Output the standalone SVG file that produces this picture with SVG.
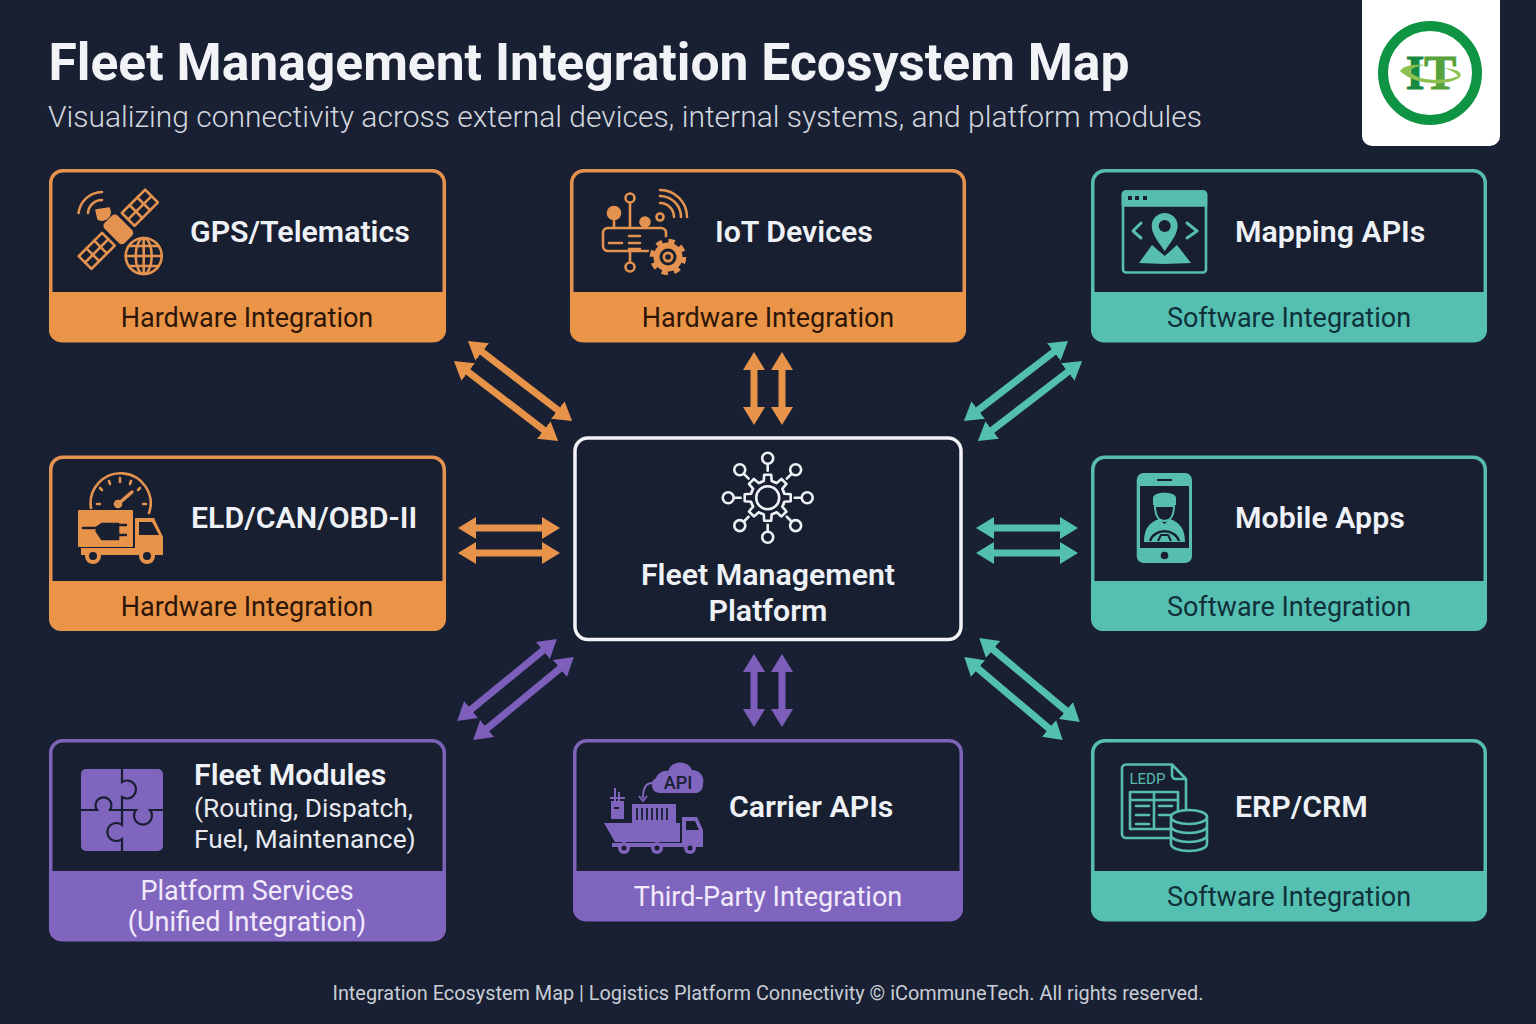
<svg xmlns="http://www.w3.org/2000/svg" width="1536" height="1024" viewBox="0 0 1536 1024">
<style>
text{font-family:Roboto,"Liberation Sans",sans-serif}
.card{fill:#181f31;stroke-width:3.5}
.o{stroke:#e3934f}.t{stroke:#56bdb0}.p{stroke:#7c62b8}
.fo{fill:#ea9447}.ft{fill:#55c0b2}.fp{fill:#8065bf}
.h{font-size:30.3px;font-weight:600;fill:#eef1f6}
.s{font-size:27px;text-anchor:middle}
.so{fill:#2c1508}.st{fill:#10303a}.sp{fill:#f1eafa}
.d{font-size:26.3px;fill:#e6e9ef}
.io{fill:none;stroke:#e3934f;stroke-width:2.6;stroke-linecap:round;stroke-linejoin:round}
.it{fill:none;stroke:#56bdb0;stroke-width:2.6;stroke-linecap:round;stroke-linejoin:round}
.iw{fill:none;stroke:#eef1f6;stroke-width:2.6;stroke-linecap:round;stroke-linejoin:round}
.co line{stroke-width:7}
</style>
<defs>
<marker id="mo" markerUnits="userSpaceOnUse" markerWidth="20" markerHeight="22" refX="4" refY="11" orient="auto-start-reverse"><path d="M0,0 L18,11 L0,22 Z" fill="#e8934a"/></marker>
<marker id="mt" markerUnits="userSpaceOnUse" markerWidth="20" markerHeight="22" refX="4" refY="11" orient="auto-start-reverse"><path d="M0,0 L18,11 L0,22 Z" fill="#53bfb0"/></marker>
<marker id="mp" markerUnits="userSpaceOnUse" markerWidth="20" markerHeight="22" refX="4" refY="11" orient="auto-start-reverse"><path d="M0,0 L18,11 L0,22 Z" fill="#7d5fbb"/></marker>
<path id="tooth" d="M15.7,-6.5 L16.6,-4 L23,-3.5 L23,3.5 L16.6,4 L15.7,6.5"/>
<g id="spoke"><line x1="27" y1="0" x2="33" y2="0"/><circle cx="39.5" cy="0" r="5.5"/></g>
</defs>
<rect width="1536" height="1024" fill="#192033"/>
<g id="header">
<text x="48.500" y="80" font-size="51.6" font-weight="700" fill="#f1f3f7">Fleet Management Integration Ecosystem Map</text>
<text x="48" y="127" font-size="30" font-weight="300" fill="#d3d7de">Visualizing connectivity across external devices, internal systems, and platform modules</text>
</g>
<g id="logo">
<rect x="1362" y="-12" width="138" height="158" rx="10" fill="#fff"/>
<circle cx="1430" cy="73" r="47" fill="none" stroke="#0f9444" stroke-width="10"/>
<text x="1431" y="89" text-anchor="middle" font-size="48" font-weight="700" stroke-width="1.200" style="font-family:'Liberation Serif',serif"><tspan fill="#15893f" stroke="#15893f">I</tspan><tspan fill="#58a23c" stroke="#58a23c">T</tspan></text>
<path d="M1400,71 C1404,65 1414,64 1425,65 C1415,67 1408,69 1411,73 C1420,81 1445,82 1458,76 C1455,72 1450,70 1444,68 C1456,69 1463,72 1460,77 C1448,87 1413,85 1400,71 Z" fill="#8cc152"/>
</g>
<g id="connectors" class="co">
<g stroke="#e8934a">
<line x1="479" y1="349.500" x2="561" y2="412.500" marker-start="url(#mo)" marker-end="url(#mo)"/>
<line x1="465" y1="369.500" x2="547" y2="432.500" marker-start="url(#mo)" marker-end="url(#mo)"/>
<line x1="754" y1="366" x2="754" y2="411" marker-start="url(#mo)" marker-end="url(#mo)"/>
<line x1="782" y1="366" x2="782" y2="411" marker-start="url(#mo)" marker-end="url(#mo)"/>
<line x1="472" y1="528" x2="546" y2="528" marker-start="url(#mo)" marker-end="url(#mo)"/>
<line x1="472" y1="553" x2="546" y2="553" marker-start="url(#mo)" marker-end="url(#mo)"/>
</g>
<g stroke="#53bfb0">
<line x1="1057" y1="349.500" x2="975" y2="412.500" marker-start="url(#mt)" marker-end="url(#mt)"/>
<line x1="1071" y1="369.500" x2="989" y2="432.500" marker-start="url(#mt)" marker-end="url(#mt)"/>
<line x1="990" y1="528" x2="1064" y2="528" marker-start="url(#mt)" marker-end="url(#mt)"/>
<line x1="990" y1="553" x2="1064" y2="553" marker-start="url(#mt)" marker-end="url(#mt)"/>
<line x1="990" y1="647" x2="1069" y2="713" marker-start="url(#mt)" marker-end="url(#mt)"/>
<line x1="975" y1="666" x2="1052" y2="731" marker-start="url(#mt)" marker-end="url(#mt)"/>
</g>
<g stroke="#7d5fbb">
<line x1="546" y1="648" x2="468" y2="712" marker-start="url(#mp)" marker-end="url(#mp)"/>
<line x1="563" y1="666" x2="484" y2="731" marker-start="url(#mp)" marker-end="url(#mp)"/>
<line x1="754" y1="668" x2="754" y2="713" marker-start="url(#mp)" marker-end="url(#mp)"/>
<line x1="782" y1="668" x2="782" y2="713" marker-start="url(#mp)" marker-end="url(#mp)"/>
</g>
</g>
<g id="node-gps">
<rect class="card o" x="50.750" y="170.750" width="393.500" height="170" rx="12"/>
<path class="fo" d="M49,292 H446 V330 A12 12 0 0 1 434,342 H61 A12 12 0 0 1 49,330 Z"/>
<g class="io">
<g transform="translate(118.300 229.300) rotate(-45)">
<rect x="14" y="-9" width="33" height="18"/><path d="M25,-9 V9 M36,-9 V9 M14,0 H47"/>
<rect x="-47" y="-9" width="33" height="18"/><path d="M-25,-9 V9 M-36,-9 V9 M-47,0 H-14"/>
<rect x="-8" y="-13" width="16" height="26" rx="3" fill="#e3934f"/>
</g>
<path d="M96,210 L109,208 A8 8 0 0 1 98,219 Z" fill="#e3934f" stroke-width="1.5"/>
<path d="M78.500,213 A24 24 0 0 1 102,192 M88,213 A14 14 0 0 1 102,200"/>
<circle cx="143.700" cy="256" r="18"/><ellipse cx="143.700" cy="256" rx="8" ry="18"/><path d="M143.700,238 V274 M125.700,256 H161.700 M129,246 H158 M129,266 H158"/>
</g>
<text class="h" x="190" y="242">GPS/Telematics</text>
<text class="s so" x="247" y="326.500">Hardware Integration</text>
</g>
<g id="node-iot">
<rect class="card o" x="571.750" y="170.750" width="392.500" height="170" rx="12"/>
<path class="fo" d="M570,292 H966 V330 A12 12 0 0 1 954,342 H582 A12 12 0 0 1 570,330 Z"/>
<g class="io">
<rect x="603" y="228" width="63" height="23" rx="5"/>
<path d="M630,203 V228 M630,251 V262 M614,219 V228 M645,228 V226"/>
<circle cx="630" cy="198" r="4.500"/><circle cx="630" cy="267" r="4.500"/>
<circle cx="614" cy="213" r="6" fill="#e3934f"/><circle cx="645" cy="222" r="4.500" fill="#e3934f"/>
<circle cx="660" cy="217" r="3.500"/>
<path d="M660,203 A14 14 0 0 1 674,217 M660,196 A21 21 0 0 1 681,217 M660,190 A27 27 0 0 1 687,217"/>
<path d="M609,243 H622 M629,236 H640 M629,243 H640 M629,249 H640"/>
</g>
<circle cx="668" cy="257" r="20" fill="#181f31"/>
<circle cx="668" cy="257" r="14.500" fill="#e3934f"/>
<circle cx="668" cy="257" r="16" fill="none" stroke="#e3934f" stroke-width="4.500" stroke-dasharray="6.280 6.280"/>
<circle cx="668" cy="257" r="8.500" fill="#181f31"/>
<circle cx="668" cy="257" r="5.500" fill="#e3934f"/>
<circle cx="668" cy="257" r="2.800" fill="#181f31"/>
<text class="h" x="715" y="242">IoT Devices</text>
<text class="s so" x="768" y="326.500">Hardware Integration</text>
</g>
<g id="node-mapping">
<rect class="card t" x="1092.750" y="170.750" width="392.500" height="170" rx="12"/>
<path class="ft" d="M1091,292 H1487 V330 A12 12 0 0 1 1475,342 H1103 A12 12 0 0 1 1091,330 Z"/>
<g class="it">
<rect x="1123" y="191.500" width="83" height="81" rx="3"/>
<path d="M1123,205.500 V194 A3 3 0 0 1 1126,191.500 H1203 A3 3 0 0 1 1206,194 V205.500 Z" fill="#56bdb0"/>
<path d="M1141,223 L1133,231 L1141,238 M1187,223 L1197,231 L1187,238" stroke-width="3"/>
</g>
<path d="M1152,245 L1139,263 L1164.700,264 L1191,263 L1177,245 L1164.700,256 Z" fill="#56bdb0"/>
<path d="M1164.700,253 C1158,243 1150.700,235 1150.700,226 A14 14 0 0 1 1178.700,226 C1178.700,235 1171,243 1164.700,253 Z" fill="#56bdb0" stroke="#181f31" stroke-width="2"/>
<circle cx="1164.700" cy="226" r="6" fill="#181f31"/>
<g fill="#181f31"><rect x="1128" y="196" width="4" height="4"/><rect x="1135" y="196" width="4" height="4"/><rect x="1143" y="196" width="4" height="4"/></g>
<text class="h" x="1235" y="242">Mapping APIs</text>
<text class="s st" x="1289" y="326.500">Software Integration</text>
</g>
<g id="node-eld">
<rect class="card o" x="50.750" y="457.250" width="393.500" height="172" rx="12"/>
<path class="fo" d="M49,581 H446 V619 A12 12 0 0 1 434,631 H61 A12 12 0 0 1 49,619 Z"/>
<g class="io">
<path d="M91,508 A30 30 0 1 1 149,513"/>
<path d="M97,504 H100 M100,488 L102,490 M109,481 L110,484 M120,478 V482 M131,481 L130,484 M140,488 L138,490 M143,504 H146"/>
<path d="M117,505 L132,492" stroke-width="3.500"/><circle cx="118" cy="504" r="3"/>
</g>
<g fill="#e8934a">
<rect x="78" y="510" width="55" height="37" rx="1"/>
<path d="M135,518 H154 L163,537 V553 H135 Z"/>
<rect x="81" y="548" width="82" height="7"/>
<circle cx="93" cy="556" r="8"/><circle cx="147" cy="556" r="8"/>
</g>
<circle cx="93" cy="556" r="4" fill="#181f31"/><circle cx="147" cy="556" r="4" fill="#181f31"/>
<path d="M139,522 H152 L159,535 H139 Z" fill="#181f31"/>
<path d="M82,528 H96 M96,528 L102,524 H118 V539 H102 L96,530 M118,525 H127 M118,535 H127" fill="#181f31" stroke="#181f31" stroke-width="2.600"/>
<text class="h" x="191" y="528">ELD/CAN/OBD-II</text>
<text class="s so" x="247" y="615.500">Hardware Integration</text>
</g>
<g id="node-center">
<rect x="575" y="438" width="386" height="201.500" rx="13" fill="#181f31" stroke="#f1f3f7" stroke-width="3.500"/>
<g class="iw" transform="translate(767.700 497.700)">
<circle r="11.500"/>
<use href="#tooth"/><use href="#tooth" transform="rotate(45)"/><use href="#tooth" transform="rotate(90)"/><use href="#tooth" transform="rotate(135)"/><use href="#tooth" transform="rotate(180)"/><use href="#tooth" transform="rotate(225)"/><use href="#tooth" transform="rotate(270)"/><use href="#tooth" transform="rotate(315)"/>
<use href="#spoke"/><use href="#spoke" transform="rotate(45)"/><use href="#spoke" transform="rotate(90)"/><use href="#spoke" transform="rotate(135)"/><use href="#spoke" transform="rotate(180)"/><use href="#spoke" transform="rotate(225)"/><use href="#spoke" transform="rotate(270)"/><use href="#spoke" transform="rotate(315)"/>
</g>
<text class="h" x="768" y="585" text-anchor="middle">Fleet Management</text>
<text class="h" x="768" y="621" text-anchor="middle">Platform</text>
</g>
<g id="node-mobile">
<rect class="card t" x="1092.750" y="457.250" width="392.500" height="172" rx="12"/>
<path class="ft" d="M1091,581 H1487 V619 A12 12 0 0 1 1475,631 H1103 A12 12 0 0 1 1091,619 Z"/>
<rect x="1136.700" y="473" width="55.300" height="90" rx="7" fill="#56bdb0"/>
<rect x="1140" y="486" width="49" height="62" fill="#181f31"/>
<rect x="1157" y="479" width="15" height="2" fill="#181f31"/>
<circle cx="1164.500" cy="555.500" r="3.800" fill="#181f31"/>
<path d="M1153,498 C1153,491 1176,491 1176,498 V505 H1153 Z" fill="#56bdb0"/>
<path d="M1155,506 H1174 C1174,516 1170,521 1164.500,521 C1159,521 1155,516 1155,506 Z" fill="none" stroke="#56bdb0" stroke-width="2"/>
<path d="M1144,542 C1144,528 1150,522 1159,519 L1164.500,524 L1170,519 C1179,522 1185,528 1185,542 Z" fill="#56bdb0"/>
<path d="M1150,541 A15 13 0 0 1 1179,541" fill="none" stroke="#181f31" stroke-width="2.500"/>
<path d="M1158,541 L1161,535 H1168 L1171,541" fill="none" stroke="#181f31" stroke-width="2"/>
<text class="h" x="1235" y="528">Mobile Apps</text>
<text class="s st" x="1289" y="615.500">Software Integration</text>
</g>
<g id="node-modules">
<rect class="card p" x="50.750" y="740.750" width="393.500" height="199" rx="12"/>
<path class="fp" d="M49,871 H446 V929 A12 12 0 0 1 434,941 H61 A12 12 0 0 1 49,929 Z"/>
<rect x="81" y="769" width="82" height="82" rx="5" fill="#8065bf"/>
<path d="M122,769 V782 A9 9 0 1 1 122,797 V825 A9 9 0 1 0 122,839 V851 M81,810 H97 A8 8 0 1 1 110,810 H136 A9 9 0 1 0 150,810 H163" fill="none" stroke="#181f31" stroke-width="2.200"/>
<text class="h" x="194" y="785">Fleet Modules</text>
<text class="d" x="194" y="817">(Routing, Dispatch,</text>
<text class="d" x="194" y="848">Fuel, Maintenance)</text>
<text class="s sp" x="247" y="899.500">Platform Services</text>
<text class="s sp" x="247" y="931">(Unified Integration)</text>
</g>
<g id="node-carrier">
<rect class="card p" x="574.750" y="740.750" width="386.500" height="179" rx="12"/>
<path class="fp" d="M573,871 H963 V909 A12 12 0 0 1 951,921 H585 A12 12 0 0 1 573,909 Z"/>
<g fill="#8065bf">
<path d="M660,793 A8 8 0 0 1 656,778 A11 11 0 0 1 668,771 A13 13 0 0 1 692,770 A11 11 0 0 1 703,784 A9 9 0 0 1 697,793 Z"/>
<rect x="611" y="801" width="13" height="18"/><path d="M615,788 V801 M619,792 V801 M610,798 H625" stroke="#8065bf" stroke-width="2"/>
<rect x="632" y="804" width="44" height="19"/>
<path d="M604,823 H680 V842 H615 Z"/>
<path d="M682,817 H697 L703,830 V847 H682 Z"/>
<rect x="612" y="843" width="80" height="4"/>
<circle cx="624" cy="848" r="6"/><circle cx="657" cy="848" r="6"/><circle cx="690" cy="848" r="6"/>
</g>
<g fill="#181f31"><circle cx="624" cy="848" r="2.500"/><circle cx="657" cy="848" r="2.500"/><circle cx="690" cy="848" r="2.500"/><path d="M686,821 H695 L699,830 H686 Z"/><rect x="614" y="807" width="5" height="2"/></g>
<path d="M637,808 V820 M642,808 V820 M647,808 V820 M652,808 V820 M657,808 V820 M662,808 V820 M667,808 V820" stroke="#181f31" stroke-width="1.800"/>
<path d="M652,783 C646,783 643,788 643,798 M639,796 L643,801 L647,796" fill="none" stroke="#8065bf" stroke-width="2"/>
<text x="678" y="789" text-anchor="middle" font-size="18" font-weight="500" fill="#181f31">API</text>
<text class="h" x="729" y="816.500">Carrier APIs</text>
<text class="s sp" x="768" y="905.500">Third-Party Integration</text>
</g>
<g id="node-erp">
<rect class="card t" x="1092.750" y="740.750" width="392.500" height="179" rx="12"/>
<path class="ft" d="M1091,871 H1487 V909 A12 12 0 0 1 1475,921 H1103 A12 12 0 0 1 1091,909 Z"/>
<g class="it">
<path d="M1172,764.500 H1126 A4 4 0 0 0 1122,768.500 V834 A4 4 0 0 0 1126,838 H1172 M1172,764.500 L1186,779 V810 M1172,764.500 V775 A4 4 0 0 0 1176,779 H1186"/>
<rect x="1130" y="792" width="48" height="37"/>
<path d="M1130,800 H1178 M1154,792 V829 M1136,806 H1149 M1136,815 H1149 M1136,824 H1149 M1159,806 H1172 M1159,815 H1172"/>
</g>
<path d="M1171,817 A18 7 0 0 1 1207,817 V844 A18 7 0 0 1 1171,844 Z" fill="#181f31" stroke="#56bdb0" stroke-width="2.600"/>
<path d="M1171,817 A18 7 0 0 0 1207,817 M1171,826 A18 7 0 0 0 1207,826 M1171,835 A18 7 0 0 0 1207,835" fill="none" stroke="#56bdb0" stroke-width="2.600"/>
<text x="1129.500" y="783.500" font-size="15" fill="#56bdb0">LEDP</text>
<text class="h" x="1235" y="816.500">ERP/CRM</text>
<text class="s st" x="1289" y="905.500">Software Integration</text>
</g>
<g id="footer">
<text x="768" y="1000" text-anchor="middle" font-size="19.860" fill="#c9ced6">Integration Ecosystem Map | Logistics Platform Connectivity © iCommuneTech. All rights reserved.</text>
</g>
</svg>
